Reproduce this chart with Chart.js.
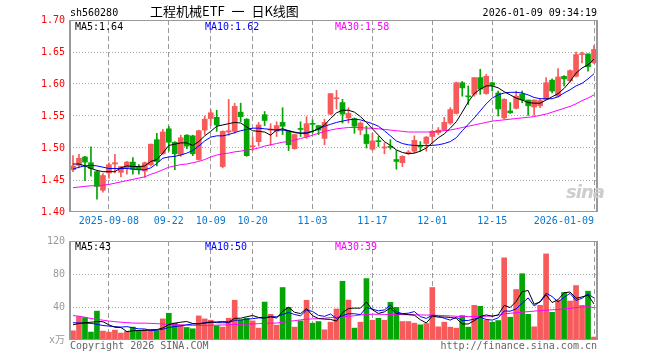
<!DOCTYPE html>
<html>
<head>
<meta charset="utf-8">
<script src="https://cdn.jsdelivr.net/npm/chart.js@4/dist/chart.umd.min.js"></script>
<style>
  body { margin: 0; background: #fff; }
  #wrap { position: relative; width: 660px; height: 360px; background: #fff; overflow: hidden; }
  canvas { position: absolute; left: 0; }
  .t { position: absolute; font: 10px/12px 'DejaVu Sans Mono', monospace; white-space: pre; }
</style>
</head>
<body>
<div id="wrap">
  <canvas id="k" width="660" height="230" style="top:0"></canvas>
  <canvas id="v" width="660" height="130" style="top:230px"></canvas>
  <div class="t" style="left:70px;top:7px">sh560280</div>
  <div class="t" style="left:150px;top:3px;font:13px/16px 'Noto Sans CJK SC',sans-serif;word-spacing:4px">工程机械ETF 一 日K线图</div>
  <div class="t" style="right:63px;top:7px">2026-01-09 09:34:19</div>
  <div class="t" style="left:75px;top:21px;color:#000">MA5:1.64</div>
  <div class="t" style="left:205px;top:21px;color:#0000ff">MA10:1.62</div>
  <div class="t" style="left:335px;top:21px;color:#ff00ff">MA30:1.58</div>
  <div class="t" style="left:75px;top:241px;color:#000">MA5:43</div>
  <div class="t" style="left:205px;top:241px;color:#0000ff">MA10:50</div>
  <div class="t" style="left:335px;top:241px;color:#ff00ff">MA30:39</div>
  <div class="t" style="left:70px;top:340px;color:#666">Copyright 2026 SINA.COM</div>
  <div class="t" style="right:63px;top:340px;color:#666">http://finance.sina.com.cn</div>
  <div class="t" style="left:566px;top:182px;font:italic bold 18px/20px 'DejaVu Sans',sans-serif;color:#cdcdcd;letter-spacing:-1px">sina</div>
</div>
<script>
// trading days shown
const dates = [
  '2025-08-29',
  '2025-09-01','2025-09-02','2025-09-03','2025-09-04','2025-09-05',
  '2025-09-08','2025-09-09','2025-09-10','2025-09-11','2025-09-12',
  '2025-09-15','2025-09-16','2025-09-17','2025-09-18','2025-09-19',
  '2025-09-22','2025-09-23','2025-09-24','2025-09-25','2025-09-26',
  '2025-09-29','2025-09-30',
  '2025-10-09','2025-10-10',
  '2025-10-13','2025-10-14','2025-10-15','2025-10-16','2025-10-17',
  '2025-10-20','2025-10-21','2025-10-22','2025-10-23','2025-10-24',
  '2025-10-27','2025-10-28','2025-10-29','2025-10-30','2025-10-31',
  '2025-11-03','2025-11-04','2025-11-05','2025-11-06','2025-11-07',
  '2025-11-10','2025-11-11','2025-11-12','2025-11-13','2025-11-14',
  '2025-11-17','2025-11-18','2025-11-19','2025-11-20','2025-11-21',
  '2025-11-24','2025-11-25','2025-11-26','2025-11-27','2025-11-28',
  '2025-12-01','2025-12-02','2025-12-03','2025-12-04','2025-12-05',
  '2025-12-08','2025-12-09','2025-12-10','2025-12-11','2025-12-12',
  '2025-12-15','2025-12-16','2025-12-17','2025-12-18','2025-12-19',
  '2025-12-22','2025-12-23','2025-12-24','2025-12-25','2025-12-26',
  '2025-12-29','2025-12-30','2025-12-31',
  '2026-01-05','2026-01-06','2026-01-07','2026-01-08','2026-01-09'
];
const tickDays = ['2025-09-08','2025-09-22','2025-10-09','2025-10-20','2025-11-03',
                  '2025-11-17','2025-12-01','2025-12-15','2026-01-09'];
const priceTicks = [1.40, 1.45, 1.50, 1.55, 1.60, 1.65, 1.70];
const volTicks = [0, 40, 80, 120];

const open = [1.466,1.473,1.486,1.477,1.463,1.434,1.461,1.475,1.462,1.469,
  1.478,1.471,1.464,1.474,1.513,1.491,1.530,1.509,1.490,1.520,
  1.519,1.482,1.528,1.546,1.548,1.471,1.525,1.526,1.556,1.545,
  1.502,1.510,1.552,1.528,1.526,1.540,1.526,1.499,1.530,1.518,
  1.538,1.535,1.515,1.553,1.577,1.571,1.547,1.546,1.528,1.521,
  1.498,1.511,1.500,1.502,1.482,1.477,1.492,1.495,1.503,1.507,
  1.518,1.524,1.528,1.539,1.554,1.602,1.581,1.584,1.610,1.585,
  1.602,1.586,1.547,1.558,1.562,1.584,1.575,1.564,1.566,1.576,
  1.606,1.581,1.612,1.605,1.612,1.646,1.647,1.633];
const high = [1.488,1.490,1.487,1.502,1.464,1.460,1.477,1.490,1.471,1.479,
  1.485,1.474,1.478,1.506,1.523,1.529,1.534,1.510,1.520,1.521,
  1.520,1.528,1.550,1.560,1.559,1.527,1.576,1.570,1.570,1.546,
  1.517,1.540,1.557,1.538,1.541,1.563,1.526,1.521,1.541,1.549,
  1.544,1.535,1.545,1.585,1.590,1.576,1.563,1.547,1.541,1.534,
  1.523,1.518,1.508,1.513,1.496,1.488,1.496,1.519,1.510,1.518,
  1.528,1.532,1.548,1.563,1.603,1.604,1.597,1.610,1.623,1.615,
  1.603,1.589,1.577,1.571,1.589,1.589,1.575,1.575,1.577,1.610,
  1.608,1.624,1.613,1.622,1.650,1.650,1.647,1.660];
const low = [1.463,1.469,1.449,1.456,1.420,1.431,1.453,1.461,1.455,1.459,
  1.459,1.459,1.454,1.472,1.472,1.490,1.495,1.466,1.487,1.499,
  1.488,1.481,1.521,1.535,1.526,1.469,1.520,1.523,1.541,1.487,
  1.496,1.503,1.535,1.504,1.518,1.521,1.496,1.498,1.518,1.515,
  1.523,1.521,1.505,1.552,1.561,1.539,1.539,1.523,1.521,1.500,
  1.496,1.502,1.491,1.498,1.467,1.471,1.490,1.492,1.495,1.495,
  1.508,1.521,1.527,1.537,1.553,1.581,1.568,1.581,1.584,1.584,
  1.589,1.550,1.545,1.554,1.561,1.571,1.551,1.551,1.563,1.576,
  1.586,1.580,1.597,1.603,1.611,1.633,1.620,1.632];
const close = [1.472,1.484,1.478,1.468,1.440,1.457,1.474,1.477,1.471,1.478,
  1.467,1.466,1.477,1.506,1.479,1.525,1.509,1.491,1.516,1.503,
  1.491,1.527,1.545,1.555,1.536,1.526,1.527,1.565,1.549,1.488,
  1.503,1.536,1.543,1.529,1.535,1.534,1.505,1.521,1.529,1.538,
  1.537,1.528,1.540,1.585,1.578,1.553,1.554,1.534,1.539,1.507,
  1.511,1.510,1.501,1.501,1.479,1.487,1.493,1.512,1.502,1.517,
  1.526,1.528,1.540,1.560,1.602,1.594,1.580,1.610,1.592,1.612,
  1.598,1.561,1.576,1.555,1.581,1.575,1.566,1.575,1.574,1.602,
  1.589,1.611,1.608,1.621,1.646,1.647,1.627,1.654];

const ma5 = [1.475,1.475,1.472,1.468,1.465,1.463,1.463,1.463,1.469,1.472,
  1.471,1.471,1.472,1.479,1.482,1.492,1.504,1.506,1.508,1.508,
  1.504,1.510,1.519,1.526,1.534,1.536,1.538,1.540,1.539,1.533,
  1.527,1.526,1.525,1.520,1.528,1.530,1.527,1.524,1.523,1.523,
  1.526,1.530,1.536,1.546,1.555,1.559,1.559,1.556,1.549,1.540,
  1.530,1.520,1.510,1.504,1.497,1.493,1.491,1.492,1.495,1.500,
  1.508,1.516,1.522,1.531,1.541,1.556,1.572,1.585,1.592,1.597,
  1.597,1.594,1.588,1.583,1.578,1.575,1.571,1.570,1.570,1.575,
  1.580,1.585,1.593,1.604,1.617,1.625,1.630,1.639];
const ma10 = [1.467,1.470,1.472,1.473,1.472,1.470,1.468,1.468,1.468,1.468,
  1.467,1.466,1.466,1.469,1.476,1.484,1.486,1.487,1.489,1.492,
  1.496,1.503,1.511,1.517,1.519,1.519,1.521,1.524,1.527,1.529,
  1.531,1.531,1.530,1.529,1.528,1.528,1.527,1.525,1.523,1.524,
  1.526,1.530,1.534,1.537,1.540,1.542,1.544,1.545,1.544,1.541,
  1.538,1.534,1.527,1.519,1.511,1.507,1.505,1.504,1.504,1.504,
  1.504,1.505,1.507,1.510,1.516,1.527,1.537,1.547,1.558,1.569,
  1.578,1.583,1.586,1.587,1.587,1.586,1.583,1.579,1.577,1.577,
  1.577,1.580,1.586,1.591,1.597,1.601,1.608,1.616];
const ma30 = [1.438,1.439,1.440,1.441,1.441,1.442,1.443,1.445,1.447,1.449,
  1.451,1.453,1.455,1.459,1.462,1.466,1.470,1.472,1.474,1.475,
  1.477,1.479,1.482,1.486,1.489,1.491,1.492,1.494,1.495,1.497,
  1.498,1.500,1.503,1.505,1.507,1.509,1.510,1.512,1.515,1.517,
  1.520,1.523,1.526,1.528,1.530,1.531,1.532,1.532,1.532,1.531,
  1.531,1.530,1.529,1.528,1.527,1.526,1.525,1.525,1.525,1.525,
  1.525,1.526,1.527,1.528,1.530,1.532,1.534,1.536,1.538,1.540,
  1.542,1.543,1.544,1.545,1.546,1.547,1.548,1.549,1.551,1.553,
  1.556,1.559,1.562,1.565,1.569,1.574,1.578,1.583];

// volume, 10k lots
const volume = [11.2,28.4,27.2,9.6,35,10.8,9.6,12,8.4,10.4,
  15.6,11.2,12.4,12.4,11.2,25.6,32.4,20.4,18.4,15.2,
  13.6,29.2,25.6,24,17.2,15.6,26.4,48.2,24.4,26.4,
  23.2,14.4,46,31.2,18,63.6,39.6,15.6,23.2,48.2,
  20.4,22.4,12.4,21.6,37.6,71.2,48.4,14.4,21.6,74.4,
  24,26.4,24,45.6,39.6,22.4,22.4,20.4,18.4,20,
  63.6,16,21.6,15.6,14.4,29.6,15.6,42,40.8,24,
  21.6,23.6,99.6,27.6,61.2,80.4,31.2,16,42,104.4,
  33.6,48.4,57.6,47.2,66,42,59.2,3.6];
const vma5 = [18.4,20,21,21.5,22.3,22.2,18.4,15.4,15.2,10.2,
  11.2,11.5,11.6,12.4,12.6,14.6,18.8,20.4,21.6,22.4,
  20,19.4,20.4,21.5,21.9,22.3,21.8,26.3,26.4,28.2,
  29.7,27.3,26.9,28.2,26.6,34.6,39.7,33.6,32,38,
  29.4,26,25.3,25,22.9,33,38.2,38.6,38.6,46,
  36.6,32.2,34.1,38.9,31.9,31.6,30.8,30.1,24.6,20.7,
  29,27.7,27.9,27.4,26.2,19.4,19.4,23.4,28.5,30.4,
  28.8,30.4,41.9,39.3,46.7,58.5,60,43.3,46.2,54.8,
  45.4,48.9,57.2,58.2,50.6,52.2,54.4,43.6];
const vma10 = [21,20.6,20.4,20.2,19,17.6,16.8,16.2,15.6,16.2,
  14.8,13.5,13.4,11.3,11.9,13.1,15.2,16.4,17.1,18.5,
  19.4,19.9,21,22,21,20.9,21.1,23.9,24.2,25.3,
  25.8,26.8,26.7,28.2,28.2,31,33.3,30.9,29.3,36.3,
  34.6,29.8,28.7,31.5,26.2,29.5,31.8,31.8,30.8,39.5,
  37.4,35.4,36.4,42.5,34.3,31.9,32.5,34.5,28.3,26.2,
  29.9,28.9,26.3,24.1,27.6,23.6,23.7,25.4,27.4,24.9,
  24.1,26.9,35.2,34.9,37.8,44.5,51,41.3,46.5,56.7,
  52.7,46.1,51.7,56.5,48,50.6,55.8,50.9];
const vma30 = [29.6,28.8,27.6,26,25,24,23,22.2,21.6,21,
  20.6,20.4,20.4,20.2,19.8,19.4,19,18.6,18.2,18,
  17.8,17.6,17.6,17.8,18,18.2,18.4,18.8,19,19.2,
  19.4,19.8,20.2,20.4,20.6,21.4,22.6,23.4,24.4,25.2,
  25.6,25.8,26.4,27.2,27.6,28,28.6,29.4,30.4,31,
  31.2,31.2,31,31,31,30.8,30.6,30.6,30.4,30.2,
  30.2,29.8,29.6,29.2,28.8,28.4,28.4,28.4,28.6,28.8,
  29.2,30,31.6,32.4,33,33.6,34.4,35,35.6,36.2,
  36.6,37,37.6,38.4,39.2,40,40.4,39.2];

const RED = '#f65a5a', GREEN = '#05a505';
const colors = close.map((c, i) => c >= open[i] ? RED : GREEN);
const wicks = low.map((l, i) => [l, high[i]]);
const bodies = open.map((o, i) => [o, close[i]]);

Chart.defaults.font.family = "'DejaVu Sans Mono', 'Noto Sans CJK SC', monospace";
Chart.defaults.font.size = 10;
Chart.defaults.animation = false;

const box = {
  id: 'box',
  afterDraw(c) {
    const { ctx, chartArea: a } = c;
    ctx.save();
    ctx.strokeStyle = '#999';
    ctx.lineWidth = 1;
    ctx.strokeRect(a.left + 0.5, a.top + 0.5, a.right - a.left - 1, a.bottom - a.top - 1);
    ctx.fillStyle = '#999';
    ctx.fillRect(a.left - 1, a.top, 1, a.bottom - a.top);
    ctx.fillRect(a.right, a.top, 1, a.bottom - a.top);
    ctx.restore();
  }
};

const xGrid = ctx => tickDays.includes(dates[ctx.index]) ? '#9a9a9a' : 'rgba(0,0,0,0)';
const line = (data, color) => ({
  type: 'line', data, borderColor: color, borderWidth: 1, pointRadius: 0, tension: 0, order: 0
});

new Chart(document.getElementById('k'), {
  type: 'bar',
  data: {
    labels: dates,
    datasets: [
      line(ma5, '#000'),
      line(ma10, '#0000ff'),
      line(ma30, '#ff00ff'),
      { data: bodies, backgroundColor: colors, barThickness: 5, minBarLength: 1, grouped: false, order: 1 },
      { data: wicks, backgroundColor: colors, barThickness: 1, grouped: false, order: 2 }
    ]
  },
  options: {
    responsive: false,
    events: [],
    layout: { padding: { left: 0, right: 63, top: 20, bottom: 0 } },
    plugins: { legend: { display: false }, tooltip: { enabled: false } },
    scales: {
      x: {
        offset: true,
        grid: { offset: false, drawTicks: false, color: xGrid },
        border: { display: false, dash: [5, 3] },
        ticks: {
          autoSkip: false, maxRotation: 0, align: 'inner', padding: 3, color: '#0a78d2',
          callback(v, i) {
            const d = dates[i];
            if (!tickDays.includes(d)) return '';
            return (d === tickDays[0] || d === tickDays[tickDays.length - 1]) ? d : d.slice(5);
          }
        },
        afterFit(s) { s.height = 18; }
      },
      y: {
        min: priceTicks[0], max: priceTicks[priceTicks.length - 1], beginAtZero: false,
        afterBuildTicks(s) { s.ticks = priceTicks.map(value => ({ value })); },
        grid: {
          drawTicks: false,
          color: ctx => (ctx.index > 0 && ctx.index < priceTicks.length - 1) ? '#aaa' : 'rgba(0,0,0,0)'
        },
        border: { display: false, dash: [1, 2] },
        ticks: { color: '#f00', padding: 5, callback: v => v.toFixed(2) },
        afterFit(s) { s.width = 70; }
      }
    }
  },
  plugins: [box]
});

new Chart(document.getElementById('v'), {
  type: 'bar',
  data: {
    labels: dates,
    datasets: [
      line(vma5, '#000'),
      line(vma10, '#0000ff'),
      line(vma30, '#ff00ff'),
      { data: volume, backgroundColor: colors, barThickness: 5, grouped: false, order: 1 }
    ]
  },
  options: {
    responsive: false,
    events: [],
    layout: { padding: { left: 0, right: 63, top: 10, bottom: 20 } },
    plugins: { legend: { display: false }, tooltip: { enabled: false } },
    scales: {
      x: {
        offset: true,
        grid: { offset: false, drawTicks: false, color: xGrid },
        border: { display: false, dash: [5, 3] },
        ticks: { display: false, autoSkip: false },
        afterFit(s) { s.height = 0; }
      },
      y: {
        min: 0, max: 120,
        afterBuildTicks(s) { s.ticks = volTicks.map(value => ({ value })); },
        grid: {
          drawTicks: false,
          color: ctx => (ctx.index > 0 && ctx.index < volTicks.length - 1) ? '#aaa' : 'rgba(0,0,0,0)'
        },
        border: { display: false, dash: [1, 2] },
        ticks: { color: '#999', padding: 5, callback: v => v === 0 ? 'x万' : v },
        afterFit(s) { s.width = 70; }
      }
    }
  },
  plugins: [box]
});
</script>
</body>
</html>
